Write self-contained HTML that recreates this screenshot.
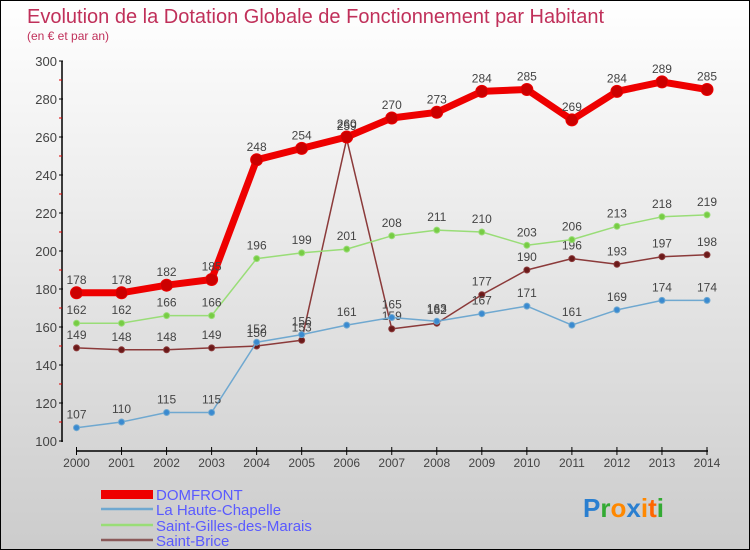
<!DOCTYPE html>
<html><head><meta charset="utf-8"><style>
body{margin:0}
#c{width:750px;height:550px;position:relative;box-sizing:border-box;border:1px solid #000;background:linear-gradient(#fff,#ccc);font-family:"Liberation Sans",sans-serif;overflow:hidden}
</style></head><body>
<div id="c">
<svg id="s" width="750" height="550" style="position:absolute;left:0;top:0">
<text x="26" y="22" font-size="20" fill="#c0305a">Evolution de la Dotation Globale de Fonctionnement par Habitant</text>
<text x="26" y="39" font-size="12" fill="#c0305a">(en € et par an)</text>
<g id="g"></g>
<g>
<rect x="100" y="489" width="52" height="9" fill="#e00"/>
<line x1="100" y1="508" x2="152" y2="508" stroke="#6fa8d0" stroke-width="2.5"/>
<line x1="100" y1="524" x2="152" y2="524" stroke="#99dd77" stroke-width="2.5"/>
<line x1="100" y1="539" x2="152" y2="539" stroke="#8b5a5a" stroke-width="2.5"/>
<text x="155" y="499" font-size="15" fill="#5a5aff">DOMFRONT</text>
<text x="155" y="514" font-size="15" fill="#5a5aff">La Haute-Chapelle</text>
<text x="155" y="530" font-size="15" fill="#5a5aff">Saint-Gilles-des-Marais</text>
<text x="155" y="545" font-size="15" fill="#5a5aff">Saint-Brice</text>
</g>
<text x="582" y="516" font-size="26" font-weight="bold"><tspan fill="#2a7fd0">P</tspan><tspan fill="#33aa33">r</tspan><tspan fill="#ff8800">o</tspan><tspan fill="#2a7fd0">x</tspan><tspan fill="#ff8800">i</tspan><tspan fill="#ff6600">t</tspan><tspan fill="#33aa33">i</tspan></text>
</svg>
</div>
<script>
const years=[2000,2001,2002,2003,2004,2005,2006,2007,2008,2009,2010,2011,2012,2013,2014];
const yTicks=[100,120,140,160,180,200,220,240,260,280,300];
const domfront=[178,178,182,185,248,254,260,270,273,284,285,269,284,289,285];
const hauteChapelle=[107,110,115,115,152,156,161,165,163,167,171,161,169,174,174];
const saintGilles=[162,162,166,166,196,199,201,208,211,210,203,206,213,218,219];
const saintBrice=[149,148,148,149,150,153,259,159,162,177,190,196,193,197,198];
const NS="http://www.w3.org/2000/svg",g=document.getElementById('g');
const X=i=>75.5+i*(706-75.5)/(years.length-1);
const Y=v=>440-(v-100)*380/200;
function el(t,a){const e=document.createElementNS(NS,t);for(const k in a)e.setAttribute(k,a[k]);g.appendChild(e);return e;}
let e=el('line',{x1:61,y1:60,x2:61,y2:441,stroke:'#000','stroke-width':1.5});

e=el('line',{x1:75,y1:450,x2:707,y2:450,stroke:'#000','stroke-width':1.5});

yTicks.forEach(v=>{let t=el('line',{x1:58,y1:Y(v),x2:62,y2:Y(v),stroke:'#000'});

let m=el('line',{x1:58,y1:Y(v+10),x2:61,y2:Y(v+10),stroke:'#d00'});
if(v==300)m.remove();
let l=el('text',{x:56,y:Y(v)+5,'text-anchor':'end','font-size':13,fill:'#444'});l.textContent=v;
});
years.forEach((y,i)=>{let t=el('line',{x1:X(i),y1:446,x2:X(i),y2:454,stroke:'#000'});

let l=el('text',{x:X(i),y:466,'text-anchor':'middle','font-size':12,fill:'#444'});l.textContent=y;
});
function series(d,name,col,w,r,dot){
 let p=el('polyline',{points:d.map((v,i)=>X(i)+','+Y(v)).join(' '),fill:'none',stroke:col,'stroke-width':w,'stroke-linejoin':'round'});
 
 d.forEach((v,i)=>{let c=el('circle',{cx:X(i),cy:Y(v),r:r,fill:dot,stroke:col,'stroke-width':1});
 
 let t=el('text',{x:X(i),y:Y(v)-9,'text-anchor':'middle','font-size':12,fill:'#444'});t.textContent=v;
 });
}
series(saintBrice,'saint-brice','#8b3a3a',1.5,3,'#6b1a1a');
series(hauteChapelle,'la-haute-chapelle','#6fa8d0',1.5,3,'#3a8ad0');
series(saintGilles,'saint-gilles','#99dd77',1.5,3,'#77cc44');
series(domfront,'domfront','#ee0000',7,6,'#cc0000');
</script>
</body></html>
